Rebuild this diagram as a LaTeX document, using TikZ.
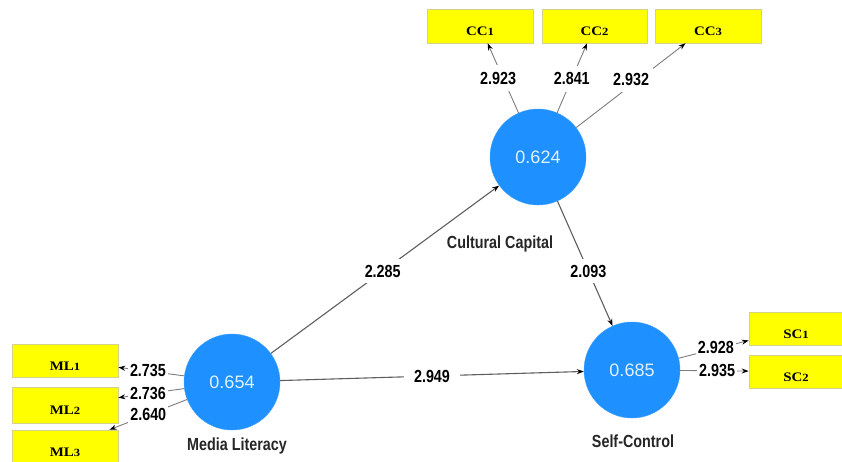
\documentclass[tikz,border=0pt]{standalone}
\usepackage{fontspec}
\setmainfont{Liberation Serif}
\newfontfamily\narrowsans[FakeStretch=0.82]{Liberation Sans}
\newfontfamily\valuesans{Liberation Sans}
\newfontfamily\widebold[FakeStretch=1.15]{Liberation Serif}
\usetikzlibrary{arrows.meta}

\definecolor{latentblue}{RGB}{30,144,255}
\definecolor{valuetext}{RGB}{225,242,255}
\definecolor{indyellow}{RGB}{255,255,0}
\definecolor{indedge}{RGB}{210,210,140}
\definecolor{loadline}{RGB}{125,125,125}
\definecolor{pathline}{RGB}{95,95,95}

% indicator name with a slightly smaller trailing digit
\newcommand{\indname}[2]{#1{\fontsize{11}{11}\selectfont #2}}

\begin{document}
\begin{tikzpicture}[x=1pt,y=-1pt,
  latent/.style={circle, fill=latentblue, draw=latentblue!85!white,
    minimum size=96pt, inner sep=0pt, text=valuetext,
    font=\valuesans\fontsize{18}{18}\selectfont},
  indicator/.style={rectangle, fill=indyellow, draw=indedge, line width=0.6pt,
    minimum width=106pt, minimum height=34pt, inner sep=0pt,
    text height=19pt, text depth=0pt,
    font=\widebold\bfseries\fontsize{13}{13}\selectfont},
  lvname/.style={font=\narrowsans\bfseries\fontsize{17.5}{17.5}\selectfont, text=black!85},
  coef/.style={fill=white, inner xsep=4pt, inner ysep=2pt,
    font=\narrowsans\bfseries\fontsize{17.5}{17.5}\selectfont},
  loading/.style={draw=loadline, line width=0.9pt,
    -{Stealth[length=7pt,width=5pt,color=black]}},
  structural/.style={draw=pathline, line width=1.1pt,
    -{Stealth[length=7pt,width=5pt,color=black]}}
]
\useasboundingbox (0,0) rectangle (842,461);
\clip (0,0) rectangle (842,461);
\fill[white] (0,0) rectangle (842,461);

% latent variables
\node[latent] (cc) at (538,157) {0.624};
\node[latent] (ml) at (232,382) {0.654};
\node[latent] (sc) at (632,370) {0.685};

\node[lvname] (cclab) at (500,244) {Cultural Capital};
\node[lvname] (mllab) at (237,446) {Media Literacy};
\node[lvname] (sclab) at (633,441) {Self-Control};

% indicators
\node[indicator] (cc1) at (480,26)    {\indname{CC}{1}};
\node[indicator, minimum width=105pt] (cc2) at (594.5,26) {\indname{CC}{2}};
\node[indicator] (cc3) at (708,26)    {\indname{CC}{3}};

\node[indicator, minimum height=33pt] (ml1) at (65,360.5) {\indname{ML}{1}};
\node[indicator, minimum height=36pt] (ml2) at (65,405)   {\indname{ML}{2}};
\node[indicator] (ml3) at (65,447)    {\indname{ML}{3}};

\node[indicator, minimum width=94pt, minimum height=33pt] (sc1) at (796,328.5) {\indname{SC}{1}};
\node[indicator, minimum width=94pt, minimum height=33pt] (sc2) at (796,371.5) {\indname{SC}{2}};

% outer loadings
\draw[loading] (cc) -- node[coef, pos=0.5, xshift=-5pt, inner ysep=7pt] {2.923} (cc1);
\draw[loading] (cc) -- node[coef, pos=0.49, inner ysep=7pt] {2.841} (cc2);
\draw[loading] (cc) -- node[coef, pos=0.575, xshift=-8pt, inner ysep=7pt] {2.932} (cc3);

\draw[loading] (ml) -- node[coef, pos=0.55, yshift=1pt, inner xsep=2pt] {2.735} (ml1);
\draw[loading] (ml) -- node[coef, pos=0.55, inner xsep=2pt] {2.736} (ml2);
\draw[loading] (ml) -- node[coef, pos=0.5, inner xsep=2pt] {2.640} (ml3);

\draw[loading] (sc) -- node[coef, pos=0.53, yshift=1pt, inner xsep=2pt] {2.928} (sc1);
\draw[loading] (sc) -- node[coef, pos=0.54, inner xsep=2pt] {2.935} (sc2);

% structural paths
\draw[structural] (ml) -- node[coef, pos=0.49, inner sep=6pt] {2.285} (cc);
\draw[structural] (cc) -- node[coef, pos=0.56, inner sep=6pt] {2.093} (sc);
\draw[structural] (ml) -- node[coef, pos=0.5, inner xsep=10pt] {2.949} (sc);
\end{tikzpicture}
\end{document}
